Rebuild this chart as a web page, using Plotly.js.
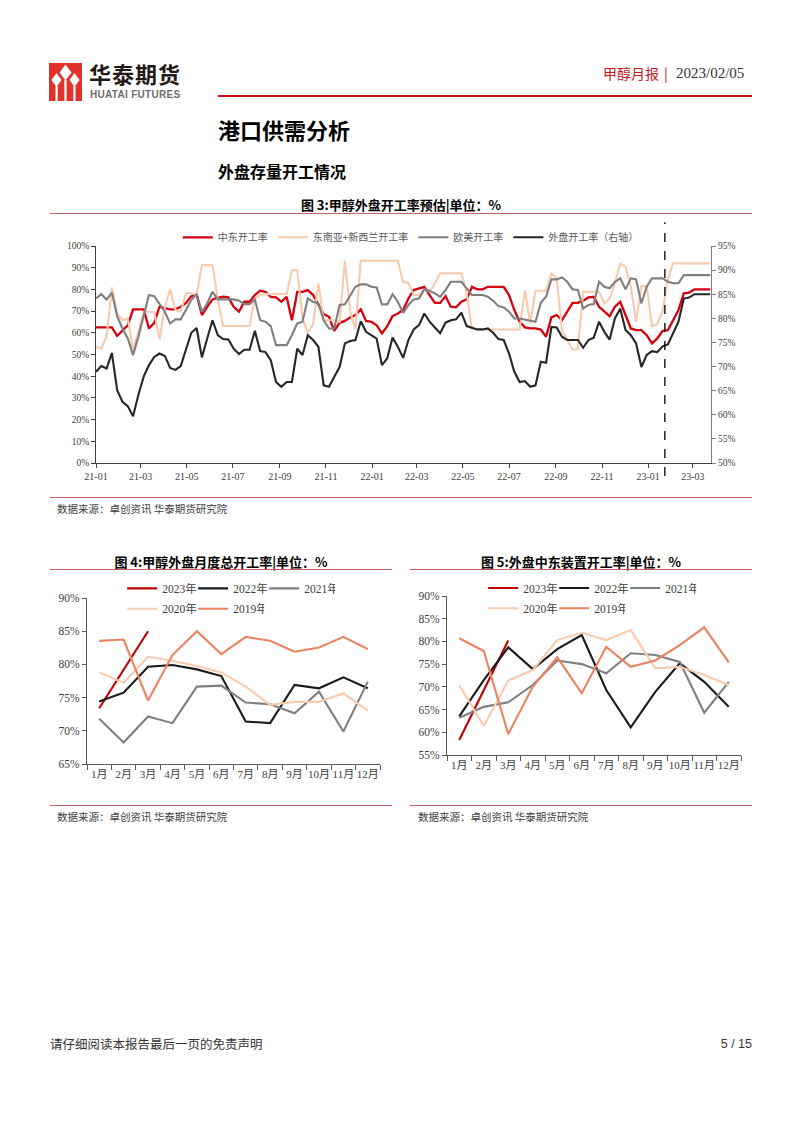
<!DOCTYPE html>
<html>
<head>
<meta charset="utf-8">
<script src="https://cdn.plot.ly/plotly-3.0.1.min.js"></script>
<style>
  html, body { margin: 0; padding: 0; background: #fff; }
  #page { position: relative; width: 802px; height: 1133px; overflow: hidden; background: #fff;
          font-family: "Noto Sans CJK SC", "Noto Sans", sans-serif; color: #000; }
  .abs { position: absolute; white-space: nowrap; line-height: 1; }
  .rule { position: absolute; height: 0; }
  .chart { position: absolute; }
</style>
</head>
<body>
<div id="page">
  <!-- header logo -->
  <svg class="abs" style="left:49px;top:63px;" width="33" height="38" viewBox="0 0 33 38">
    <rect x="0" y="0" width="33" height="38" fill="#E0322A"/>
    <polygon points="16.5,1.5 22.5,9.5 16.5,17.5 10.5,9.5" fill="#fff"/>
    <polygon points="7.5,10 12.5,17 7.5,24 2.5,17" fill="#fff"/>
    <polygon points="25.5,10 30.5,17 25.5,24 20.5,17" fill="#fff"/>
    <rect x="6.5" y="23" width="2.2" height="15" fill="#fff"/>
    <rect x="24.3" y="23" width="2.2" height="15" fill="#fff"/>
    <rect x="15.4" y="17" width="2.2" height="21" fill="#fff"/>
  </svg>
  <div class="abs" style="left:89px;top:62px;font-size:22px;font-weight:700;letter-spacing:1px;color:#231815;">华泰期货</div>
  <div class="abs" style="left:90px;top:90px;font-family:'Liberation Sans',Arial,sans-serif;font-size:10px;font-weight:700;letter-spacing:0.3px;color:#6d6d6d;">HUATAI FUTURES</div>

  <div class="abs" style="left:603px;top:66px;font-size:14px;color:#C8161D;">甲醇月报<span style="margin:0 6px 0 5px;">|</span></div>
  <div class="abs" style="left:676px;top:66px;font-family:'Liberation Serif',serif;font-size:15px;color:#333;">2023/02/05</div>
  <div class="rule" style="left:218px;top:95px;width:534px;border-top:2px solid #C8161D;"></div>

  <div class="abs" style="left:218px;top:118px;font-size:22px;font-weight:700;">港口供需分析</div>
  <div class="abs" style="left:218px;top:163px;font-size:16px;font-weight:700;">外盘存量开工情况</div>

  <!-- Figure 3 -->
  <div class="abs" style="left:0;width:802px;text-align:center;top:198px;font-size:13px;font-weight:700;">图 3:甲醇外盘开工率预估|单位：%</div>
  <div class="rule" style="left:50px;top:213px;width:702px;border-top:1.5px solid #C95F63;"></div>
  <div id="fig3" class="chart" style="left:0;top:215px;width:802px;height:280px;"></div>
  <div class="rule" style="left:50px;top:497px;width:702px;border-top:1.5px solid #C95F63;"></div>
  <div class="abs" style="left:57px;top:504px;font-size:10.5px;color:#404040;">数据来源：卓创资讯 华泰期货研究院</div>

  <!-- Figure 4 & 5 titles -->
  <div class="abs" style="left:50px;width:342px;text-align:center;top:555px;font-size:13px;font-weight:700;">图 4:甲醇外盘月度总开工率|单位：%</div>
  <div class="abs" style="left:410px;width:342px;text-align:center;top:555px;font-size:13px;font-weight:700;">图 5:外盘中东装置开工率|单位：%</div>
  <div class="rule" style="left:50px;top:569px;width:342px;border-top:1.5px solid #C95F63;"></div>
  <div class="rule" style="left:410px;top:569px;width:342px;border-top:1.5px solid #C95F63;"></div>
  <div id="fig4" class="chart" style="left:0;top:575px;width:400px;height:225px;"></div>
  <div id="fig5" class="chart" style="left:400px;top:575px;width:402px;height:225px;"></div>
  <div class="rule" style="left:50px;top:805px;width:342px;border-top:1.5px solid #C95F63;"></div>
  <div class="rule" style="left:410px;top:805px;width:342px;border-top:1.5px solid #C95F63;"></div>
  <div class="abs" style="left:57px;top:812px;font-size:10.5px;color:#404040;">数据来源：卓创资讯 华泰期货研究院</div>
  <div class="abs" style="left:418px;top:812px;font-size:10.5px;color:#404040;">数据来源：卓创资讯 华泰期货研究院</div>

  <!-- footer -->
  <div class="abs" style="left:50px;top:1038px;font-size:12.5px;color:#333;">请仔细阅读本报告最后一页的免责声明</div>
  <div class="abs" style="left:652px;width:100px;text-align:right;top:1038px;font-family:'Liberation Sans',sans-serif;font-size:12.5px;color:#333;">5 / 15</div>
</div>

<script>
// ---------------- Figure 3 data (weekly, starting 2021-01-01) ----------------
const weekStart = '2021-01-01';
const forecastMarkerDate = '2023-01-23';
const seriesNames3 = ['中东开工率', '东南亚+新西兰开工率', '欧美开工率', '外盘开工率（右轴）'];

const middleEast = [
  62.5,62.5,62.5,62.5,58.6,61.2,63.5,70.8,70.8,70.8,
  62.0,64.6,72.0,71.5,70.8,70.8,72.0,73.8,76.9,77.7,
  68.2,72.0,75.4,76.2,76.6,76.3,72.0,69.7,74.3,74.3,
  77.4,79.4,78.9,76.6,76.3,74.3,76.6,65.8,78.9,78.9,
  79.7,77.4,72.8,68.6,67.4,60.9,64.6,65.5,67.1,68.2,
  70.8,65.5,65.1,63.5,59.7,63.1,67.7,68.9,70.5,75.8,
  79.7,80.5,81.2,77.4,73.8,73.8,76.9,72.0,71.7,74.3,
  75.4,81.2,80.0,80.0,81.2,81.2,81.2,81.2,77.4,70.5,
  65.1,62.5,62.0,62.0,61.5,58.2,67.1,68.2,65.8,69.7,
  73.8,73.8,74.8,76.3,76.6,72.0,69.7,67.7,72.0,74.3,
  68.2,62.0,61.2,61.2,58.9,55.1,57.4,60.9,61.2,65.8,
  70.5,78.2,78.5,80.0,80.0,80.0,80.0
];
const seaNz = [
  53.5,52.8,58.2,80.9,68.9,65.8,66.6,52.0,60.5,69.7,
  69.7,69.7,56.9,72.0,80.0,70.5,69.7,78.2,78.2,77.4,
  91.2,91.2,91.2,75.1,63.1,63.1,63.1,63.1,63.1,63.1,
  75.8,77.4,77.8,77.8,77.8,77.8,77.8,88.9,88.9,66.6,
  60.0,64.0,82.8,65.8,65.8,65.8,65.0,93.2,70.0,61.5,
  93.2,93.2,93.2,93.2,93.2,93.2,93.2,93.2,83.5,83.0,
  77.4,77.4,80.0,79.0,82.8,87.4,87.4,87.4,87.4,87.4,
  78.2,62.0,61.5,61.5,61.5,61.5,61.5,61.5,61.5,61.5,
  61.5,79.7,64.3,79.4,79.4,79.4,87.4,85.1,61.2,56.6,
  52.3,52.3,78.9,78.9,78.9,78.9,73.5,75.8,82.8,92.0,
  90.5,81.2,65.0,81.5,81.5,63.0,64.0,70.0,85.0,92.0,
  92.0,92.0,92.0,92.0,92.0,92.0,92.0
];
const euAm = [
  75.8,77.8,75.4,78.5,67.7,62.0,57.4,49.7,58.2,67.4,
  77.4,76.9,73.5,69.7,64.3,66.2,66.2,70.5,75.1,77.8,
  69.7,73.5,78.9,75.4,75.4,75.4,75.4,74.8,73.2,73.2,
  75.4,65.8,65.1,63.1,54.3,54.3,54.3,58.9,64.3,65.1,
  75.8,74.3,73.5,65.8,62.0,62.0,72.8,73.1,77.4,81.2,
  82.3,82.3,81.2,80.9,73.1,73.1,77.8,74.3,69.2,72.8,
  75.4,75.8,80.0,79.4,78.2,76.6,79.7,83.5,83.5,83.5,
  80.5,77.4,77.4,77.4,76.6,74.8,72.3,71.7,69.7,66.6,
  66.6,66.2,65.8,65.1,73.8,76.6,84.6,84.6,85.5,83.5,
  80.0,79.7,71.2,72.8,73.2,83.5,81.2,80.5,83.5,85.1,
  80.0,85.1,84.6,73.5,81.2,85.1,85.1,85.1,83.5,82.8,
  82.8,86.6,86.6,86.6,86.6,86.6,86.6
];
const overseasTotal = [
  68.9,70.1,69.6,72.8,65.1,62.7,61.8,59.7,64.1,67.9,
  70.3,72.0,72.7,72.2,69.7,69.3,70.1,73.4,77.0,78.0,
  71.9,75.8,79.6,76.5,75.7,75.6,73.7,72.6,73.5,73.5,
  77.4,73.2,73.0,71.3,66.8,65.8,66.8,66.8,73.7,72.4,
  76.5,75.5,74.1,66.1,65.8,67.9,69.9,74.8,75.3,75.5,
  79.4,77.2,76.5,75.8,70.3,71.7,76.0,74.1,71.8,75.5,
  77.7,78.6,81.0,79.3,78.1,76.9,79.1,79.6,79.8,81.2,
  78.4,78.1,77.7,77.7,77.9,77.0,75.7,75.5,72.7,68.9,
  66.8,67.0,65.8,66.1,71.0,70.8,78.2,78.1,76.2,75.5,
  75.5,75.5,73.9,75.5,76.0,79.3,77.2,75.6,80.0,82.0,
  77.6,76.5,74.8,69.9,72.4,73.2,73.0,74.2,74.6,76.9,
  79.3,84.1,84.3,85.0,85.0,85.0,85.0
];

// ---------------- Figure 4 / 5 data (monthly) ----------------
const months = ['1月','2月','3月','4月','5月','6月','7月','8月','9月','10月','11月','12月'];
const yearNames = ['2023年','2022年','2021年','2020年','2019年'];

const total2023 = [73.4, 79.2, 85.0];
const total2022 = [74.4, 75.75, 79.65, 79.9, 79.25, 78.25, 71.4, 71.15, 76.9, 76.4, 78.05, 76.4];
const total2021 = [71.8, 68.25, 72.15, 71.15, 76.65, 76.8, 74.25, 74.0, 72.65, 75.9, 69.9, 77.4];
const total2020 = [78.8, 77.25, 81.15, 80.55, 79.75, 78.8, 76.65, 73.9, 74.35, 74.35, 75.65, 73.05];
const total2019 = [83.55, 83.75, 74.55, 81.4, 85.0, 81.55, 84.15, 83.55, 81.9, 82.55, 84.15, 82.3];

const me2023 = [58.3, 69.2, 80.2];
const me2022 = [63.5, 71.5, 78.7, 73.9, 78.3, 81.4, 69.3, 61.1, 68.9, 75.2, 71.1, 65.6];
const me2021 = [63.2, 65.6, 66.6, 70.4, 75.8, 75.0, 73.0, 77.4, 77.0, 75.5, 64.3, 71.1];
const me2020 = [70.4, 61.4, 71.4, 73.7, 80.3, 81.9, 80.3, 82.5, 74.1, 74.4, 72.6, 70.4];
const me2019 = [80.7, 77.9, 59.6, 70.0, 76.5, 68.6, 78.8, 74.4, 75.8, 79.2, 83.1, 75.4];

// ---------------- styling ----------------
const serif = "'Liberation Serif', 'Noto Sans CJK SC', serif";
const cjk = "'Noto Sans CJK SC', 'Liberation Serif', sans-serif";
const colRed = '#D7000F';
const colPeach = '#F8CBAD';
const colGrey = '#7F7F7F';
const colBlack = '#262626';
const colDarkRed = '#C00000';
const colOrange = '#EA8360';
const config = { displayModeBar: false, staticPlot: true };

// weekly date axis
const dates = middleEast.map((_, i) => {
  const d = new Date(weekStart + 'T00:00:00Z');
  d.setUTCDate(d.getUTCDate() + 7 * i);
  return d.toISOString().slice(0, 10);
});

const fig3Traces = [
  { x: dates, y: middleEast, name: seriesNames3[0], type: 'scatter', mode: 'lines',
    line: { color: colRed, width: 2.3 }, legendrank: 1 },
  { x: dates, y: seaNz, name: seriesNames3[1], type: 'scatter', mode: 'lines',
    line: { color: colPeach, width: 2.1 }, legendrank: 2 },
  { x: dates, y: euAm, name: seriesNames3[2], type: 'scatter', mode: 'lines',
    line: { color: colGrey, width: 2.1 }, legendrank: 3 },
  { x: dates, y: overseasTotal, name: seriesNames3[3], type: 'scatter', mode: 'lines', yaxis: 'y2',
    line: { color: colBlack, width: 2.1 }, legendrank: 4 }
];

const axisTickFont = { family: serif, size: 10, color: '#404040' };

const fig3Layout = {
  width: 802, height: 280,
  margin: { l: 96, r: 91, t: 31, b: 32, autoexpand: false },
  paper_bgcolor: 'rgba(0,0,0,0)', plot_bgcolor: 'rgba(0,0,0,0)',
  showlegend: true,
  legend: { orientation: 'h', x: 0.133, xanchor: 'left', y: 1.04, yanchor: 'middle',
            font: { family: cjk, size: 10, color: '#595959' }, itemwidth: 30,
            bgcolor: 'rgba(0,0,0,0)', borderwidth: 0 },
  xaxis: { type: 'date', range: ['2021-01-01', '2023-03-25'], tick0: '2021-01-01', dtick: 'M2',
           tickformat: '%y-%m', showline: true, linecolor: '#404040', linewidth: 1,
           ticks: 'outside', ticklen: 4, tickcolor: '#404040', showgrid: false, zeroline: false,
           tickfont: axisTickFont },
  yaxis: { range: [0, 100], dtick: 10, ticksuffix: '%', showline: true, linecolor: '#404040', linewidth: 1,
           ticks: 'outside', ticklen: 4, tickcolor: '#404040', showgrid: false, zeroline: false,
           tickfont: { family: serif, size: 9.5, color: '#404040' } },
  yaxis2: { overlaying: 'y', side: 'right', range: [50, 95], dtick: 5, ticksuffix: '%',
            showline: true, linecolor: '#808080', linewidth: 1, ticks: 'outside', ticklen: 4,
            tickcolor: '#808080', showgrid: false, zeroline: false,
            tickfont: { family: serif, size: 9.5, color: '#404040' } },
  shapes: [
    { type: 'line', xref: 'x', yref: 'paper', x0: forecastMarkerDate, x1: forecastMarkerDate,
      y0: -0.06, y1: 1.11, line: { color: '#000', width: 1.3, dash: 'dash' } }
  ]
};

Plotly.newPlot('fig3', fig3Traces, fig3Layout, config);

// ---------------- monthly charts ----------------
function monthlyTraces(s2023, s2022, s2021, s2020, s2019) {
  const mk = (y, name, color, legend) => ({
    x: months.slice(0, y.length), y: y, name: name, type: 'scatter', mode: 'lines',
    line: { color: color, width: 2.1 }, legend: legend
  });
  return [
    mk(s2023, yearNames[0], colDarkRed, 'legend'),
    mk(s2022, yearNames[1], '#1A1A1A', 'legend'),
    mk(s2021, yearNames[2], colGrey, 'legend'),
    mk(s2020, yearNames[3], colPeach, 'legend2'),
    mk(s2019, yearNames[4], colOrange, 'legend2')
  ];
}

function monthlyLayout(width, margin, yRange, legendX, legY1, legY2) {
  const legFont = { family: serif, size: 11.5, color: '#404040' };
  return {
    width: width, height: 225, margin: Object.assign({ autoexpand: false }, margin),
    paper_bgcolor: 'rgba(0,0,0,0)', plot_bgcolor: 'rgba(0,0,0,0)',
    showlegend: true,
    legend: { orientation: 'h', x: legendX, xanchor: 'left', y: legY1, yanchor: 'middle',
              font: legFont, itemwidth: 30, entrywidth: 26, bgcolor: 'rgba(0,0,0,0)' },
    legend2: { orientation: 'h', x: legendX, xanchor: 'left', y: legY2, yanchor: 'middle',
               font: legFont, itemwidth: 30, entrywidth: 26, bgcolor: 'rgba(0,0,0,0)' },
    xaxis: { type: 'category', categoryorder: 'array', categoryarray: months, range: [-0.5, 11.5],
             tickson: 'boundaries', ticks: 'outside', ticklen: 5, tickcolor: '#595959', tickangle: 0,
             showline: true, linecolor: '#595959', linewidth: 1, showgrid: false, zeroline: false,
             tickfont: { family: serif, size: 11, color: '#404040' } },
    yaxis: { range: yRange, dtick: 5, ticksuffix: '%', ticks: 'outside', ticklen: 4, tickcolor: '#595959',
             showline: true, linecolor: '#595959', linewidth: 1, showgrid: false, zeroline: false,
             tickfont: { family: serif, size: 11.5, color: '#404040' } }
  };
}

Plotly.newPlot('fig4',
  monthlyTraces(total2023, total2022, total2021, total2020, total2019),
  monthlyLayout(400, { l: 87, r: 20, t: 23, b: 36 }, [65, 90], 0.12, 1.058, 0.935),
  config);

Plotly.newPlot('fig5',
  monthlyTraces(me2023, me2022, me2021, me2020, me2019),
  monthlyLayout(402, { l: 47, r: 61, t: 21, b: 45 }, [55, 90], 0.123, 1.05, 0.923),
  config);
</script>
</body>
</html>
